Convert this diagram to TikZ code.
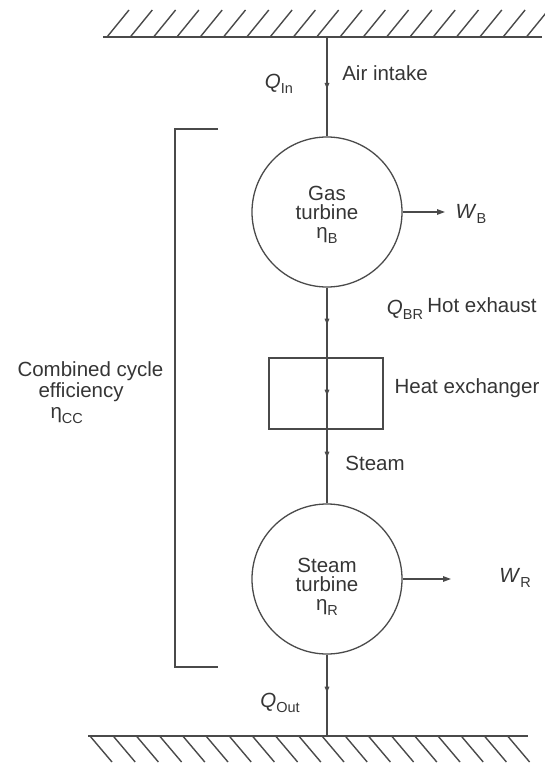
\documentclass[tikz,border=0pt]{standalone}
\usepackage{fontspec}
\setmainfont{Liberation Sans}
\usetikzlibrary{arrows.meta,decorations.markings}
\definecolor{ink}{HTML}{353535}
\definecolor{linec}{HTML}{4A4A4A}
\newcommand\lsub[1]{\raisebox{-0.45ex}{\fontsize{14.5}{15}\selectfont #1}}
\begin{document}
\begin{tikzpicture}[x=1pt,y=-1pt,
  every node/.style={font=\fontsize{20.5}{21}\selectfont, text=ink},
  ground/.style={draw=linec, line width=2.2pt},
  hatch/.style={draw=linec, line width=1.4pt},
  flow/.style={draw=linec, line width=1.4pt},
  turb/.style={circle, draw=linec, line width=1.3pt, minimum size=150pt, inner sep=0pt, align=center},
  hxbox/.style={rectangle, draw=linec, line width=1.3pt, minimum width=114pt, minimum height=71pt, inner sep=0pt},
  warrow/.style={draw=linec, line width=1.3pt, -{Triangle[length=8pt,width=5.5pt]}},
  tickat/.style={postaction={decorate,decoration={markings,mark=at position #1 with {\arrow[linec]{Triangle[length=6pt,width=4.5pt]}}}}},
  brack/.style={draw=linec, line width=2pt}]
\useasboundingbox (0,0) rectangle (544,765);
% grounds
\coordinate (tl) at (103,37); \coordinate (tr) at (542,37);
\coordinate (bl) at (88,736); \coordinate (br) at (528,736);
\draw[ground] (tl) -- (tr);
\draw[ground] (bl) -- (br);
\foreach \k in {0,...,18} \draw[hatch] (107+23.3*\k,37) -- ++(22,-27);
\foreach \k in {0,...,18} \draw[hatch] (90+23.2*\k,736) -- ++(22,26);
% main elements
\coordinate (top) at (327,37);
\coordinate (bot) at (327,736);
\node[turb] (gt) at (327,212) {\rule{0pt}{20pt}Gas\\[-2pt]turbine\\[-2pt]η\lsub{B}};
\node[hxbox] (hx) at (326,393.5) {};
\node[turb] (st) at (327,579) {\rule{0pt}{30pt}Steam\\[-2pt]turbine\\[-2pt]η\lsub{R}};
% flow connectors
\draw[flow, tickat=52pt] (top) -- (gt.north);
\draw[flow, tickat=37pt, tickat=108pt, tickat=170pt] (gt.south) -- (st.north);
\draw[flow, tickat=38pt] (st.south) -- (bot);
% work outputs
\coordinate (wbend) at (445,212);
\coordinate (wrend) at (451,579);
\draw[warrow] (gt.east) -- (wbend);
\draw[warrow] (st.east) -- (wrend);
% labels
\node (qin) at (279,84) {\textit{Q}\lsub{In}};
\node (air) at (385,73) {Air intake};
\node (wb) at (471,214) {\textit{W}\lsub{B}};
\node (qbr) at (405,310) {\textit{Q}\lsub{BR}};
\node (hot) at (482,305) {Hot exhaust};
\node (hxl) at (467,388) {Heat exchanger};
\node (steam) at (375,463) {Steam};
\node (wr) at (515,578) {\textit{W}\lsub{R}};
\node (qout) at (280,703) {\textit{Q}\lsub{Out}};
% bracket
\draw[brack] (218,129) -- (175,129) -- (175,667) -- (218,667);
\node[anchor=west, align=left] (cc) at (14,393) {Combined cycle\\\hspace{21pt}efficiency\\\hspace{33pt}η\lsub{CC}};
\end{tikzpicture}
\end{document}
